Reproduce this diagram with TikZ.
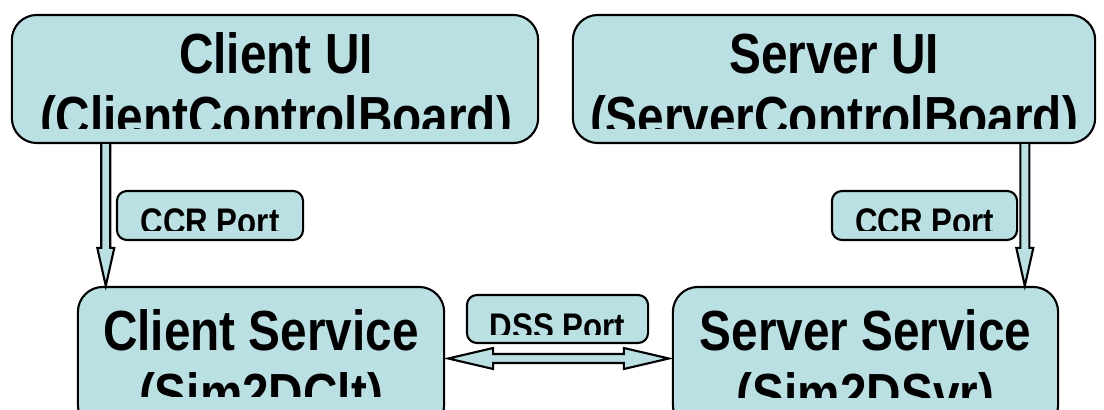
\documentclass[tikz,border=0pt]{standalone}
\usepackage{fontspec}
\usepackage{xcolor}
\newfontfamily\diagfont[FakeStretch=0.844]{Liberation Sans}
\definecolor{paleblue}{HTML}{BBE0E3}

\tikzset{
	bigbox/.style={draw, line width=0.6pt, fill=paleblue, rounded corners=0.25cm, inner sep=0pt},
	portbox/.style={draw, line width=0.6pt, fill=paleblue, rounded corners=0.1cm, inner sep=0pt},
	bigtext/.style={anchor=base, align=center, inner sep=0pt, font=\diagfont\bfseries\fontsize{16.08}{17.93}\selectfont},
	porttext/.style={anchor=base, inner sep=0pt, font=\diagfont\bfseries\fontsize{10.53}{12}\selectfont},
	blockarr/.style={draw, line width=0.6pt, fill=paleblue, line join=miter}
}

\begin{document}
\begin{tikzpicture}[x=0.01cm, y=-0.01cm]
	\clip (0,0) rectangle (1104,410);
	
	\node[bigbox, minimum width=5.26cm, minimum height=1.28cm] (cui) at (275,79) {};
	\node[bigbox, minimum width=5.22cm, minimum height=1.28cm] (sui) at (834,79) {};
	\node[bigbox, minimum width=3.66cm, minimum height=1.43cm] (csv) at (261,358.5) {};
	\node[bigbox, minimum width=3.85cm, minimum height=1.43cm] (ssv) at (865.5,358.5) {};
	
	\node[portbox, minimum width=1.86cm, minimum height=0.49cm] (lport) at (210,215.5) {};
	\node[portbox, minimum width=1.85cm, minimum height=0.49cm] (rport) at (924.5,215.5) {};
	\node[portbox, minimum width=1.81cm, minimum height=0.48cm] (dport) at (557.5,319) {};
	
	% texts, cut off at the bottom as in the slide
	\begin{scope}
		\clip (cui.north west) rectangle ([shift={(0,-16)}]cui.south east);
		\node[bigtext] (cuitext) at ([shift={(1,58)}]cui.center) {Client UI\\(ClientControlBoard)};
	\end{scope}
	\begin{scope}
		\clip (sui.north west) rectangle ([shift={(0,-16)}]sui.south east);
		\node[bigtext] (suitext) at ([shift={(0,58)}]sui.center) {Server UI\\(ServerControlBoard)};
	\end{scope}
	\begin{scope}
		\clip (csv.north west) rectangle ([shift={(0,38)}]csv.center -| csv.east);
		\node[bigtext] (csvtext) at ([shift={(0,55.5)}]csv.center) {Client Service\\(Sim2DClt)};
	\end{scope}
	\begin{scope}
		\clip (ssv.north west) rectangle ([shift={(0,39)}]ssv.center -| ssv.east);
		\node[bigtext] (ssvtext) at ([shift={(0,55.5)}]ssv.center) {Server Service\\(Sim2DSvr)};
	\end{scope}
	\begin{scope}
		\clip (lport.north west) rectangle ([shift={(0,-11)}]lport.south east);
		\node[porttext] (lporttext) at ([shift={(0,19)}]lport.center) {CCR Port};
	\end{scope}
	\begin{scope}
		\clip (rport.north west) rectangle ([shift={(0,-11)}]rport.south east);
		\node[porttext] (rporttext) at ([shift={(0,19)}]rport.center) {CCR Port};
	\end{scope}
	\begin{scope}
		\clip (dport.north west) rectangle ([shift={(0,-10)}]dport.south east);
		\node[porttext] (dporttext) at ([shift={(0,20.5)}]dport.center) {DSS Port};
	\end{scope}
	
	% block arrows
	\path (cui.south west) ++(95,0) coordinate (ltop);
	\path (ltop |- csv.north) coordinate (ltip);
	\draw[blockarr] ([shift={(-4.5,0)}]ltop) -- ([shift={(-4.5,-38)}]ltip) -- ([shift={(-8.5,-38)}]ltip) -- (ltip) -- ([shift={(8.5,-38)}]ltip) -- ([shift={(4.5,-38)}]ltip) -- ([shift={(4.5,0)}]ltop);
	
	\path (sui.south west) ++(453,0) coordinate (rtop);
	\path (rtop |- ssv.north) coordinate (rtip);
	\draw[blockarr] ([shift={(-4.5,0)}]rtop) -- ([shift={(-4.5,-38)}]rtip) -- ([shift={(-8.5,-38)}]rtip) -- (rtip) -- ([shift={(8.5,-38)}]rtip) -- ([shift={(4.5,-38)}]rtip) -- ([shift={(4.5,0)}]rtop);
	
	\path (csv.east) ++(3,0) coordinate (dleft);
	\path (ssv.west) ++(-3,0) coordinate (dright);
	\draw[blockarr] (dleft) -- ([shift={(45,-10.5)}]dleft) -- ([shift={(45,-4.5)}]dleft) -- ([shift={(-45,-4.5)}]dright) -- ([shift={(-45,-10.5)}]dright) -- (dright) -- ([shift={(-45,10.5)}]dright) -- ([shift={(-45,4.5)}]dright) -- ([shift={(45,4.5)}]dleft) -- ([shift={(45,10.5)}]dleft) -- cycle;
	
\end{tikzpicture}
\end{document}
